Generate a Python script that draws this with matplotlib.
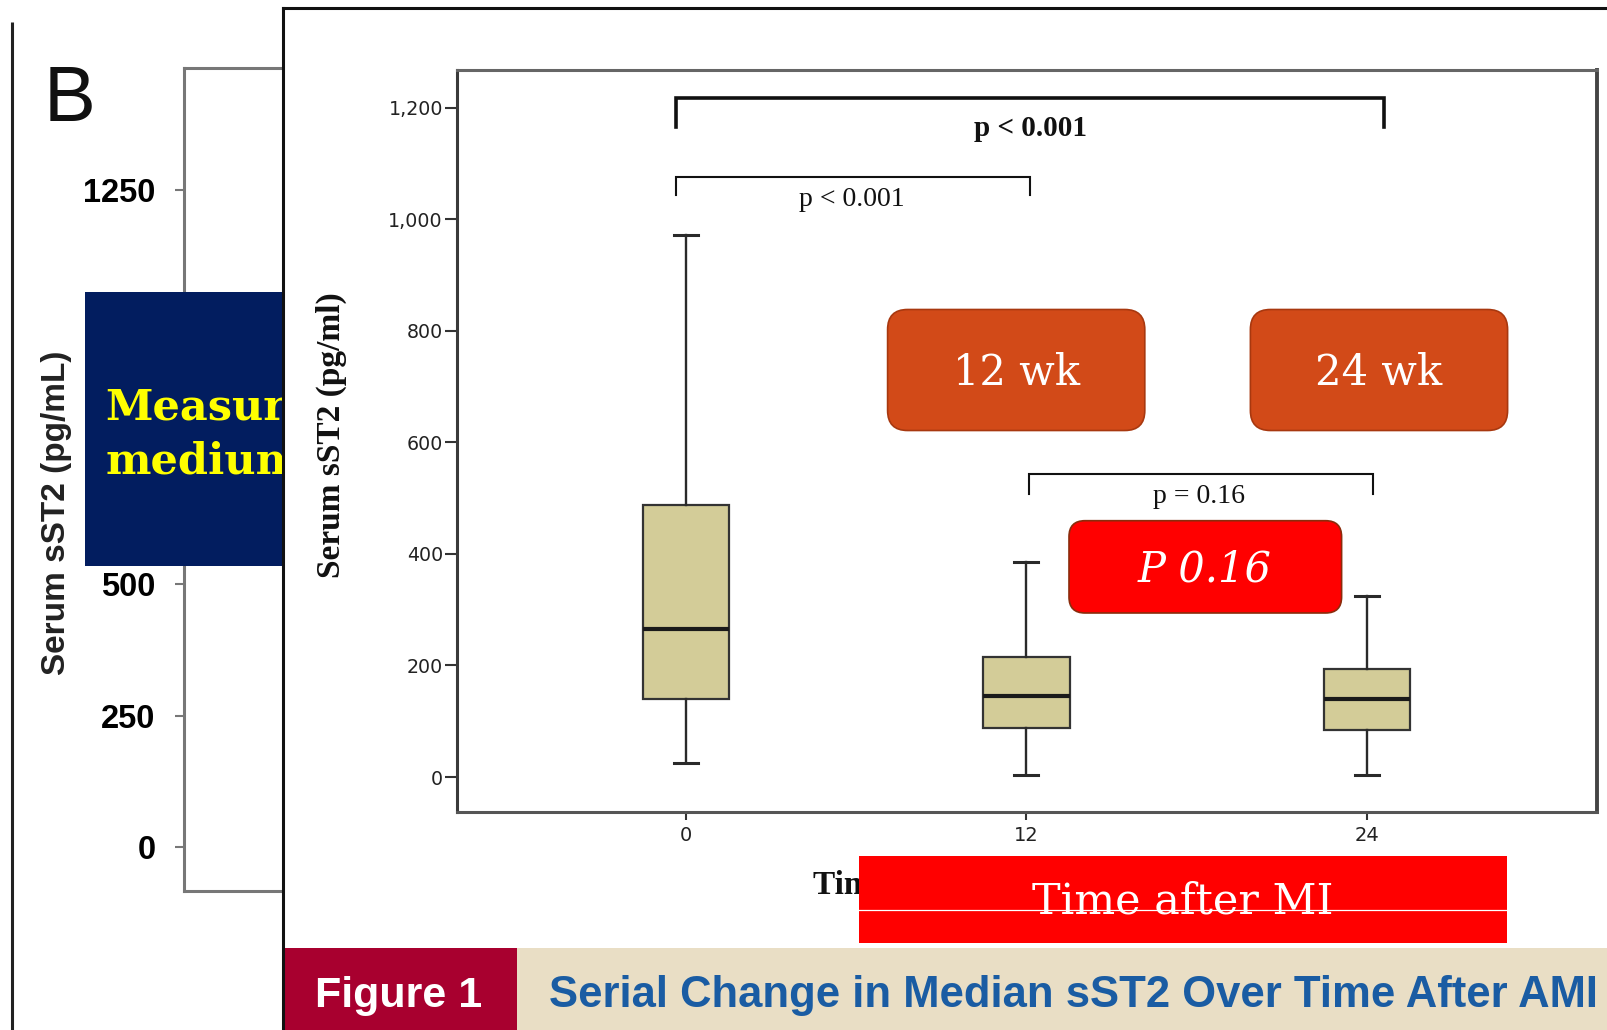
import matplotlib
matplotlib.use("Agg")
import matplotlib.pyplot as plt
from matplotlib.patches import Rectangle, FancyBboxPatch

# ---------------- data ----------------
weeks = [0, 12, 24]
week_labels = ["0", "12", "24"]
q1 = [140, 88, 85]
medians = [265, 145, 140]
q3 = [487, 215, 193]
whisker_low = [25, 4, 4]
whisker_high = [972, 386, 325]

y_ticks = [0, 200, 400, 600, 800, 1000, 1200]
y_tick_labels = ["0", "200", "400", "600", "800", "1,000", "1,200"]

# significance brackets: (x start, x end, top, leg bottom, label, label x, label y)
bracket_x0 = [-0.36, -0.36, 12.09]
bracket_x1 = [24.62, 12.13, 24.22]
bracket_top = [1217, 1075, 544]
bracket_leg = [1165, 1044, 507]
bracket_text = ["p < 0.001", "p < 0.001", "p = 0.16"]
bracket_text_x = [12.16, 5.86, 18.07]
bracket_text_y = [1163, 1035, 502]
bracket_bold = [True, False, False]
bracket_lw = [2.6, 1.5, 1.5]

# older panel behind the figure (750 and 1000 sit under the banner)
bg_ticks = [0, 250, 500, 750, 1000, 1250]
bg_tick_labels = ["0", "250", "500", "", "", "1250"]

W, H = 1607, 1030
fig = plt.figure(figsize=(W / 100, H / 100), dpi=100)
fig.patch.set_facecolor("white")


def px_axes(left, top, right, bottom):
    return [left / W, 1 - bottom / H, (right - left) / W, (bottom - top) / H]


def canvas(z):
    c = fig.add_axes([0, 0, 1, 1], zorder=z)
    c.set_xlim(0, W)
    c.set_ylim(H, 0)
    c.axis("off")
    return c


# ---------------- background panel "B" ----------------
bg = fig.add_axes(px_axes(184, 68, 760, 891), zorder=0)
bg.set_xlim(0, 1)
bg.set_ylim(-83.6, 1481)
bg.set_xticks([])
bg.set_yticks(bg_ticks)
bg.set_yticklabels(bg_tick_labels, fontfamily="Liberation Sans",
                   fontweight="bold", fontsize=23.5)
for s in bg.spines.values():
    s.set_color("#777777")
    s.set_linewidth(2.2)
bg.tick_params(axis="y", length=6.5, width=1.5, color="#777777", pad=14)
bg.set_ylabel("Serum sST2 (pg/mL)", fontfamily="Liberation Sans",
              fontweight="bold", fontsize=24, color="#222222")
bg.yaxis.set_label_coords(-0.222, 0.459)
bg.yaxis.label.set_verticalalignment("center")

c0 = canvas(1)
c0.plot([11.7, 11.7], [22, 1030], color="#222222", lw=2.2,
        solid_capstyle="butt")
c0.text(44, 121, "B", fontfamily="Liberation Sans", fontsize=56,
        ha="left", va="baseline", color="#111111")
banner = Rectangle((85, 292), 199, 274, facecolor="#021d5f",
                   edgecolor="none")
c0.add_patch(banner)
for txt, base in [("Measure", 420), ("medium", 473)]:
    t = c0.text(105.6, base, txt, fontfamily="DejaVu Serif",
                fontweight="bold", fontsize=31, color="#ffff00",
                va="baseline")
    t.set_clip_path(banner)

# ---------------- figure panel and caption band ----------------
c1 = canvas(2)
c1.add_patch(Rectangle((283.3, 8), 1400, 1100, facecolor="white",
                       edgecolor="none"))
c1.add_patch(Rectangle((283.3, 948), 233.2, 90, facecolor="#a8002f",
                       edgecolor="none"))
c1.add_patch(Rectangle((516.5, 948), 1100, 90, facecolor="#e9dec5",
                       edgecolor="none"))
c1.plot([283.3, 283.3], [8, 1030], color="#111111", lw=2.2,
        solid_capstyle="projecting")
c1.plot([283.3, 1607], [8, 8], color="#111111", lw=2.2,
        solid_capstyle="projecting")
c1.text(315, 1007.5, "Figure 1", fontfamily="Liberation Sans",
        fontweight="bold", fontsize=31, color="white", va="baseline")
c1.text(549, 1007.5, "Serial Change in Median sST2 Over Time After AMI",
        fontfamily="Liberation Sans", fontweight="bold", fontsize=31.4,
        color="#1a5ca3", va="baseline")

# ---------------- main box plot ----------------
ax = fig.add_axes(px_axes(457, 70, 1597, 811.7), zorder=3)
ax.set_facecolor("white")
stats = [
    {"med": m, "q1": a, "q3": b, "whislo": lo, "whishi": hi, "fliers": []}
    for m, a, b, lo, hi in zip(medians, q1, q3, whisker_low, whisker_high)
]
ax.bxp(stats, positions=weeks, widths=3.04, capwidths=0.85,
       patch_artist=True, showfliers=False,
       boxprops=dict(facecolor="#d3cc98", edgecolor="#333333", linewidth=1.6),
       medianprops=dict(color="#1a1a1a", linewidth=3),
       whiskerprops=dict(color="#2a2a2a", linewidth=1.7),
       capprops=dict(color="#2a2a2a", linewidth=2.2))

for x0, x1, top, leg, txt, tx, ty, bold, lw in zip(
        bracket_x0, bracket_x1, bracket_top, bracket_leg, bracket_text,
        bracket_text_x, bracket_text_y, bracket_bold, bracket_lw):
    ax.plot([x0, x0, x1, x1], [leg, top, top, leg], color="#111111", lw=lw,
            solid_joinstyle="miter")
    ax.text(tx, ty, txt, ha="center", va="center",
            fontfamily="Liberation Serif",
            fontweight="bold" if bold else "normal",
            fontsize=21 if bold else 20, color="#111111")

ax.set_xlim(-8.07, 32.11)
ax.set_ylim(-62.2, 1267.5)
ax.set_xticks(weeks)
ax.set_xticklabels(week_labels, fontfamily="DejaVu Sans", fontsize=14)
ax.set_yticks(y_ticks)
ax.set_yticklabels(y_tick_labels, fontfamily="DejaVu Sans", fontsize=13.7)
ax.tick_params(axis="y", length=8.6, width=1.5, color="#333333", pad=1.5,
               labelcolor="#222222")
ax.tick_params(axis="x", length=5.8, width=1.5, color="#333333", pad=4.5,
               labelcolor="#222222")
ax.spines["left"].set_color("#3a3a3a")
ax.spines["bottom"].set_color("#555555")
ax.spines["top"].set_color("#666666")
ax.spines["right"].set_color("#444444")
for s in ("left", "bottom", "top"):
    ax.spines[s].set_linewidth(2.2)
ax.spines["right"].set_linewidth(2.8)

ax.set_ylabel("Serum sST2 (pg/ml)", fontfamily="Liberation Serif",
              fontweight="bold", fontsize=24, color="#111111")
ax.yaxis.set_label_coords(-0.110, 0.508)
ax.yaxis.label.set_verticalalignment("center")
ax.set_xlabel("Time (weeks)", fontfamily="Liberation Serif",
              fontweight="bold", fontsize=24, color="#111111")
ax.xaxis.set_label_coords(0.312, -0.111)
ax.xaxis.label.set_horizontalalignment("left")
ax.xaxis.label.set_verticalalignment("baseline")

# ---------------- callouts ----------------
c2 = canvas(4)
for x0, label in [(887.6, "12 wk"), (1250.4, "24 wk")]:
    c2.add_patch(FancyBboxPatch((x0, 309.5), 257.2, 121,
                                boxstyle="round,pad=0,rounding_size=20",
                                facecolor="#d24a18", edgecolor="#a8380f",
                                linewidth=1.2))
    c2.text(x0 + 128.6, 385, label, ha="center", va="baseline",
            fontfamily="DejaVu Serif", fontsize=30, color="white")

c2.add_patch(FancyBboxPatch((1069, 520.7), 272.6, 92.3,
                            boxstyle="round,pad=0,rounding_size=16",
                            facecolor="#ff0000", edgecolor="#8a2c0c",
                            linewidth=1.2))
c2.text(1205, 582, "P 0.16", ha="center", va="baseline",
        fontfamily="DejaVu Serif", fontstyle="italic", fontsize=30,
        color="white")

c2.add_patch(Rectangle((858.9, 855.8), 647.7, 87.2, facecolor="#ff0000",
                       edgecolor="none"))
c2.text(1183, 914, "Time after MI", ha="center", va="baseline",
        fontfamily="DejaVu Serif", fontsize=31, color="white")
c2.plot([858.9, 1506.6], [910, 910], color="white", lw=0.9)

fig.savefig("out.png", dpi=100)
